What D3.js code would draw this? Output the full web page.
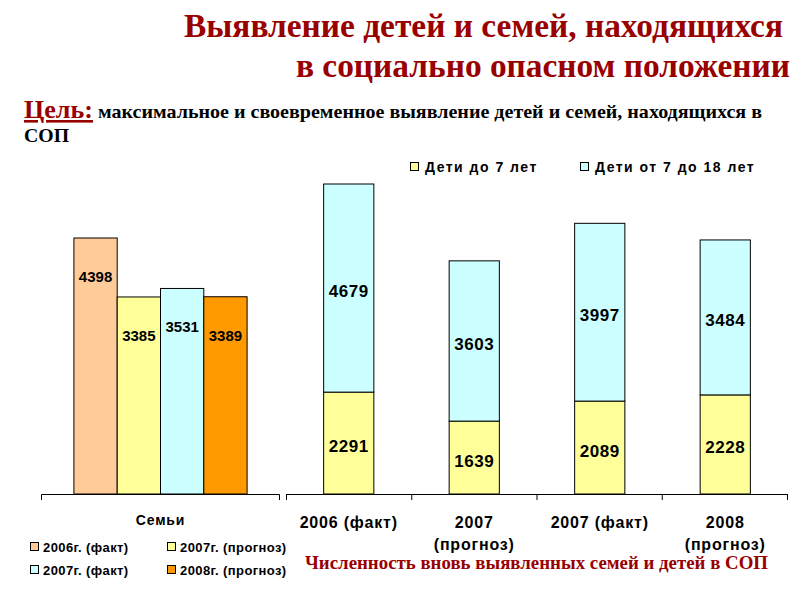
<!DOCTYPE html>
<html>
<head>
<meta charset="utf-8">
<script src="https://cdn.jsdelivr.net/npm/d3@7"></script>
<style>
  body { margin: 0; background: #fff; }
  svg { display: block; }
</style>
</head>
<body>
<div id="chart"></div>
<script>
// families chart
let famCategory = ["Семьи"];
let famSeries = ["2006г. (факт)", "2007г. (прогноз)", "2007г. (факт)", "2008г. (прогноз)"];
let famValues = [4398, 3385, 3531, 3389];
let famColors = ["#FFCC99", "#FFFF99", "#CCFFFF", "#FF9900"];

// children chart
let kidCategories = ["2006 (факт)", "2007|(прогноз)", "2007 (факт)", "2008|(прогноз)"];
let kidSeries = ["Дети до 7 лет", "Дети от 7 до 18 лет"];
let kidUnder7 = [2291, 1639, 2089, 2228];
let kid7to18 = [4679, 3603, 3997, 3484];
let kidColors = ["#FFFF99", "#CCFFFF"];

let svgWidth = 800, svgHeight = 600;
let baseY = 494;
let red = "#990000";
let sans = "Liberation Sans, Arial, sans-serif";
let serif = "Liberation Serif, serif";

let svg = d3.select("#chart").append("svg")
  .attr("width", svgWidth)
  .attr("height", svgHeight);

// titles
svg.append("text")
  .attr("x", 184).attr("y", 37)
  .attr("textLength", 599).attr("lengthAdjust", "spacingAndGlyphs")
  .style("font-family", serif)
  .style("font-weight", "bold").style("font-size", "33px")
  .style("fill", red)
  .text("Выявление детей и семей, находящихся");

svg.append("text")
  .attr("x", 296).attr("y", 77)
  .attr("textLength", 494).attr("lengthAdjust", "spacingAndGlyphs")
  .style("font-family", serif)
  .style("font-weight", "bold").style("font-size", "33px")
  .style("fill", red)
  .text("в социально опасном положении");

svg.append("text")
  .attr("x", 24).attr("y", 118)
  .attr("textLength", 69).attr("lengthAdjust", "spacingAndGlyphs")
  .style("font-family", serif)
  .style("font-weight", "bold").style("font-size", "26px")
  .style("fill", red)
  .style("text-decoration", "underline")
  .text("Цель:");

svg.append("text")
  .attr("x", 98).attr("y", 118)
  .attr("textLength", 664).attr("lengthAdjust", "spacingAndGlyphs")
  .style("font-family", serif)
  .style("font-weight", "bold").style("font-size", "19px")
  .style("fill", "#000")
  .text("максимальное и своевременное выявление детей и семей, находящихся в");

svg.append("text")
  .attr("x", 24).attr("y", 142)
  .attr("textLength", 45).attr("lengthAdjust", "spacingAndGlyphs")
  .style("font-family", serif)
  .style("font-weight", "bold").style("font-size", "19px")
  .style("fill", "#000")
  .text("СОП");

// ---- left chart: families
let famX = d3.scaleBand()
  .domain(famCategory)
  .range([41, 280])
  .paddingInner(0)
  .paddingOuter(0.19);

let famInner = d3.scaleBand()
  .domain(famSeries)
  .range([0, famX.bandwidth()]);

let famY = d3.scaleLinear()
  .domain([0, 4398])
  .range([baseY, 238]);

let famG = svg.append("g");
famG.selectAll("rect")
  .data(famValues)
  .enter()
  .append("rect")
  .attr("x", (d, i) => famX(famCategory[0]) + famInner(famSeries[i]))
  .attr("y", d => famY(d))
  .attr("width", famInner.bandwidth())
  .attr("height", d => baseY - famY(d))
  .style("fill", (d, i) => famColors[i])
  .style("stroke", "#000")
  .style("stroke-width", 1);

famG.selectAll("text.val")
  .data(famValues)
  .enter()
  .append("text")
  .attr("class", "val")
  .attr("x", (d, i) => famX(famCategory[0]) + famInner(famSeries[i]) + famInner.bandwidth() / 2)
  .attr("y", d => famY(d) + 44)
  .attr("text-anchor", "middle")
  .style("font-family", sans)
  .style("font-weight", "bold").style("font-size", "15px")
  .text(d => d);

let famAxis = svg.append("g")
  .attr("transform", `translate(0,${baseY})`);
famAxis.append("path")
  .attr("d", "M41.5,6V0.5H279.5V6")
  .style("fill", "none").style("stroke", "#000");

svg.append("text")
  .attr("x", famX(famCategory[0]) + famX.bandwidth() / 2)
  .attr("y", 525)
  .attr("text-anchor", "middle")
  .style("font-family", sans)
  .style("font-weight", "bold").style("font-size", "14px")
  .style("letter-spacing", "0.8px")
  .text(famCategory[0]);

// families legend
let famLegend = svg.append("g");
famSeries.forEach(function (s, i) {
  let lx = 30 + (i % 2) * 137;
  let ly = 547 + Math.floor(i / 2) * 23;
  famLegend.append("rect")
    .attr("x", lx + 0.5).attr("y", ly - 4.5)
    .attr("width", 8).attr("height", 8)
    .style("fill", famColors[i]).style("stroke", "#000");
  famLegend.append("text")
    .attr("x", lx + 13).attr("y", ly + 5)
    .style("font-family", sans)
    .style("font-weight", "bold").style("font-size", "13px")
    .style("letter-spacing", "0.4px")
    .text(s);
});

// ---- right chart: children
let kidX = d3.scaleBand()
  .domain(kidCategories)
  .range([286, 788])
  .padding(0.6)
  .paddingOuter(0.3);

let kidY = d3.scaleLinear()
  .domain([0, 6970])
  .range([baseY, 184]);

let stacked = kidCategories.map((c, i) => ({ cat: c, a: kidUnder7[i], b: kid7to18[i] }));

let kidG = svg.append("g");
kidG.selectAll("rect.a")
  .data(stacked)
  .enter()
  .append("rect")
  .attr("class", "a")
  .attr("x", d => kidX(d.cat))
  .attr("y", d => kidY(d.a))
  .attr("width", kidX.bandwidth())
  .attr("height", d => baseY - kidY(d.a))
  .style("fill", kidColors[0]).style("stroke", "#000");

kidG.selectAll("rect.b")
  .data(stacked)
  .enter()
  .append("rect")
  .attr("class", "b")
  .attr("x", d => kidX(d.cat))
  .attr("y", d => kidY(d.a + d.b))
  .attr("width", kidX.bandwidth())
  .attr("height", d => kidY(d.a) - kidY(d.a + d.b))
  .style("fill", kidColors[1]).style("stroke", "#000");

kidG.selectAll("text.a")
  .data(stacked)
  .enter()
  .append("text")
  .attr("class", "a")
  .attr("x", d => kidX(d.cat) + kidX.bandwidth() / 2)
  .attr("y", d => (kidY(d.a) + baseY) / 2 + 9)
  .attr("text-anchor", "middle")
  .style("font-family", sans)
  .style("font-weight", "bold").style("font-size", "17px")
  .style("letter-spacing", "0.5px")
  .text(d => d.a);

kidG.selectAll("text.b")
  .data(stacked)
  .enter()
  .append("text")
  .attr("class", "b")
  .attr("x", d => kidX(d.cat) + kidX.bandwidth() / 2)
  .attr("y", d => (kidY(d.a) + kidY(d.a + d.b)) / 2 + 9)
  .attr("text-anchor", "middle")
  .style("font-family", sans)
  .style("font-weight", "bold").style("font-size", "17px")
  .style("letter-spacing", "0.5px")
  .text(d => d.b);

// axis with ticks at category boundaries
let kidAxis = svg.append("g").attr("transform", `translate(0,${baseY})`);
kidAxis.append("line")
  .attr("x1", 286).attr("x2", 788).attr("y1", 0.5).attr("y2", 0.5)
  .style("stroke", "#000");
kidAxis.selectAll("line.tick")
  .data(d3.range(kidCategories.length + 1))
  .enter()
  .append("line")
  .attr("class", "tick")
  .attr("x1", i => 286.5 + i * (501 / kidCategories.length))
  .attr("x2", i => 286.5 + i * (501 / kidCategories.length))
  .attr("y1", 0).attr("y2", 6)
  .style("stroke", "#000");

kidCategories.forEach(function (c) {
  let lines = c.split("|");
  let t = svg.append("text")
    .attr("x", kidX(c) + kidX.bandwidth() / 2)
    .attr("y", 528)
    .attr("text-anchor", "middle")
    .style("font-family", sans)
    .style("font-weight", "bold").style("font-size", "16px")
    .style("letter-spacing", "0.8px");
  lines.forEach((l, j) => {
    t.append("tspan")
      .attr("x", kidX(c) + kidX.bandwidth() / 2)
      .attr("dy", j === 0 ? 0 : 22)
      .text(l);
  });
});

// children legend
let kidLegend = svg.append("g");
kidSeries.forEach(function (s, i) {
  let lx = 410 + i * 170;
  kidLegend.append("rect")
    .attr("x", lx + 0.5).attr("y", 162.5)
    .attr("width", 8).attr("height", 8)
    .style("fill", kidColors[i]).style("stroke", "#000");
  kidLegend.append("text")
    .attr("x", lx + 15).attr("y", 172)
    .style("font-family", sans)
    .style("font-weight", "bold").style("font-size", "14px")
    .style("letter-spacing", "1.5px")
    .text(s);
});

// bottom caption
svg.append("text")
  .attr("x", 305).attr("y", 569)
  .attr("textLength", 463).attr("lengthAdjust", "spacingAndGlyphs")
  .style("font-family", serif)
  .style("font-weight", "bold").style("font-size", "18px")
  .style("fill", red)
  .text("Численность вновь выявленных семей и детей в СОП");
</script>
</body>
</html>
